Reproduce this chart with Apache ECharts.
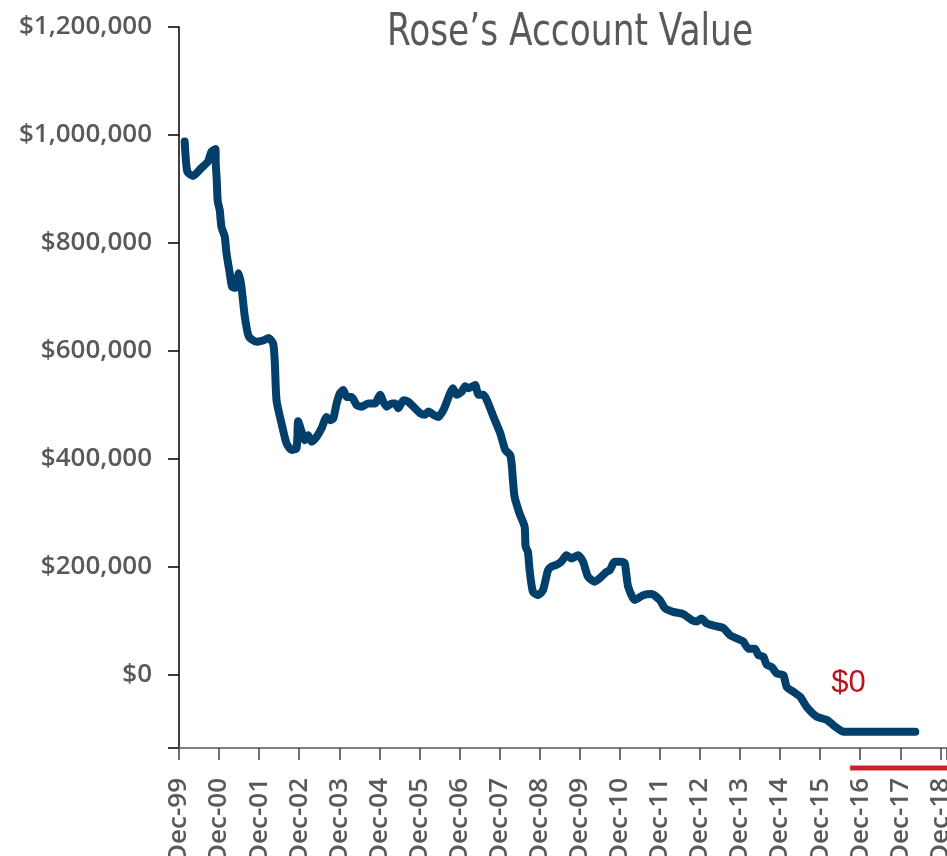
<!DOCTYPE html>
<html>
<head>
<meta charset="utf-8">
<script src="https://cdn.jsdelivr.net/npm/echarts@6/dist/echarts.min.js"></script>
<style>
html, body { margin: 0; padding: 0; background: #fff; }
#main { width: 947px; height: 856px; }
</style>
</head>
<body>
<div id="main"></div>
<script>
// months after Dec-99, and account value in dollars
var months = [1.7, 2.5, 4.2, 6.7, 8.7, 9.7, 10.9, 11.0, 11.3, 11.6,
    12.2, 12.7, 13.7, 14.2, 15.2, 15.9, 16.9, 17.9, 18.7, 19.7,
    20.9, 23.2, 25.4, 26.8, 28.2, 28.7, 29.2, 30.7, 32.2, 33.7,
    35.2, 35.7, 36.7, 37.7, 38.7, 39.7, 41.2, 42.7, 44.2, 45.2,
    46.2, 47.2, 48.2, 49.2, 50.2, 51.7, 53.2, 54.7, 56.7, 58.7,
    60.2, 61.2, 62.2, 63.7, 64.7, 65.7, 67.2, 68.7, 70.2, 72.2,
    73.7, 74.7, 76.2, 77.7, 79.2, 80.2, 81.2, 82.0, 83.2, 84.7,
    85.7, 86.7, 87.7, 88.7, 89.7, 91.2, 92.2, 94.2, 96.2, 97.7,
    99.2, 99.7, 100.0, 100.5, 102.0, 103.5, 103.8, 104.5, 105.0, 106.0,
    107.5, 109.0, 110.5, 111.5, 113.0, 114.5, 116.0, 117.5, 119.5, 121.0,
    122.5, 124.5, 126.5, 128.0, 129.0, 130.5, 132.5, 133.5, 134.5, 136.5,
    139.0, 141.5, 144.0, 145.5, 148.0, 151.0, 153.5, 155.0, 156.5, 158.0,
    160.5, 163.0, 165.0, 167.0, 169.0, 170.5, 172.5, 173.5, 175.0, 176.0,
    177.5, 179.0, 181.0, 182.0, 184.0, 186.0, 188.0, 191.0, 194.0, 196.0,
    198.0, 199.0, 220.5];

var accountValue = [988000, 932000, 924000, 939000, 951000, 969000, 974000, 948000, 917000, 877000,
    861000, 830000, 812000, 782000, 744000, 719000, 717000, 744000, 719000, 664000,
    627000, 617000, 620000, 624000, 614000, 578000, 509000, 466000, 429000, 417000,
    420000, 470000, 451000, 435000, 444000, 432000, 441000, 457000, 478000, 472000,
    475000, 503000, 522000, 528000, 515000, 515000, 500000, 497000, 503000, 503000,
    519000, 506000, 497000, 503000, 503000, 494000, 509000, 506000, 497000, 485000,
    482000, 488000, 482000, 478000, 491000, 506000, 522000, 531000, 519000, 525000,
    535000, 531000, 534000, 537000, 519000, 519000, 509000, 478000, 448000, 417000,
    407000, 386000, 361000, 330000, 299000, 275000, 238000, 228000, 194000, 154000,
    148000, 157000, 194000, 201000, 204000, 210000, 222000, 216000, 222000, 210000,
    182000, 173000, 182000, 191000, 194000, 210000, 210000, 207000, 164000, 139000,
    148000, 150000, 139000, 124000, 117000, 113000, 102000, 99000, 105000, 96000,
    91000, 87000, 74000, 68000, 62000, 49000, 49000, 37000, 34000, 19000,
    15000, 3000, 0, -22000, -31000, -40000, -59000, -77000, -83000, -93000,
    -102000, -105000, -105000];

var tickLabels = ['Dec-99', 'Dec-00', 'Dec-01', 'Dec-02', 'Dec-03', 'Dec-04', 'Dec-05',
    'Dec-06', 'Dec-07', 'Dec-08', 'Dec-09', 'Dec-10', 'Dec-11', 'Dec-12', 'Dec-13',
    'Dec-14', 'Dec-15', 'Dec-16', 'Dec-17', 'Dec-18'];

var yMin = -135000;
var yMax = 1200000;
var xMax = 230;

// "$0" note and the red bar under the axis
var zeroNote = [200.5, -15000];
var zeroBand = [201, 230];

var labelFont = 'Open Sans';
var grey = '#595959';

function initChart() {
    var chart = echarts.init(document.getElementById('main'), null, {
        width: 947,
        height: 856,
        devicePixelRatio: 1
    });

    var lineData = months.map(function (m, i) {
        return [m, accountValue[i]];
    });

    var option = {
        animation: false,
        grid: {
            left: 179,
            right: 0,
            top: 27,
            bottom: 108,
            outerBoundsMode: 'none'
        },
        xAxis: {
            type: 'value',
            min: 0,
            max: xMax,
            interval: 12,
            axisLine: { onZero: false, lineStyle: { color: '#808080', width: 2 } },
            axisTick: { length: 12, lineStyle: { color: '#404040', width: 1.5 } },
            splitLine: { show: false },
            axisLabel: {
                rotate: 90,
                margin: 30,
                fontFamily: labelFont,
                fontWeight: 600,
                fontSize: 26,
                color: grey,
                formatter: function (v) {
                    if (v % 12 !== 0) return '';
                    return tickLabels[v / 12] || '';
                }
            }
        },
        yAxis: {
            type: 'value',
            min: yMin,
            max: yMax,
            splitNumber: 7,
            minInterval: 200000,
            maxInterval: 200000,
            axisLine: { show: true, onZero: false, lineStyle: { color: '#000', width: 1.5 } },
            axisTick: { show: true, length: 11, lineStyle: { color: '#000', width: 1.5 } },
            splitLine: { show: false },
            axisLabel: {
                margin: 27,
                padding: [8, 0, 0, 0],
                fontFamily: labelFont,
                fontWeight: 600,
                fontSize: 26,
                color: grey,
                formatter: function (v) {
                    if (v < 0) return '';
                    return '$' + v.toLocaleString('en-US');
                }
            }
        },
        series: [{
            type: 'line',
            data: lineData,
            showSymbol: false,
            smooth: 0.2,
            clip: false,
            lineStyle: { color: '#023F6B', width: 8, cap: 'round', join: 'round' },
            markPoint: {
                symbol: 'rect',
                symbolSize: 1,
                itemStyle: { color: 'rgba(0,0,0,0)' },
                label: {
                    show: true,
                    position: 'inside',
                    formatter: '$0',
                    fontFamily: 'Liberation Sans',
                    fontSize: 31,
                    color: '#C0121C'
                },
                data: [{ coord: zeroNote }]
            }
        }]
    };
    chart.setOption(option);

    var p0 = chart.convertToPixel({ gridIndex: 0 }, [zeroBand[0], yMin]);
    var p1 = chart.convertToPixel({ gridIndex: 0 }, [zeroBand[1], yMin]);
    chart.setOption({
        graphic: [{
            // title, squeezed to match the condensed face
            type: 'text',
            x: 570,
            y: 33,
            scaleX: 0.85,
            style: {
                text: 'Rose\u2019s Account Value',
                font: "normal 45px 'DejaVu Sans Condensed', 'DejaVu Sans', sans-serif",
                fill: grey,
                textAlign: 'center',
                textVerticalAlign: 'middle'
            }
        }, {
            type: 'line',
            shape: { x1: p0[0], y1: p0[1] + 20, x2: p1[0], y2: p1[1] + 20 },
            style: { stroke: '#D0202A', lineWidth: 5 }
        }]
    });
    return chart;
}

initChart();
</script>
</body>
</html>
